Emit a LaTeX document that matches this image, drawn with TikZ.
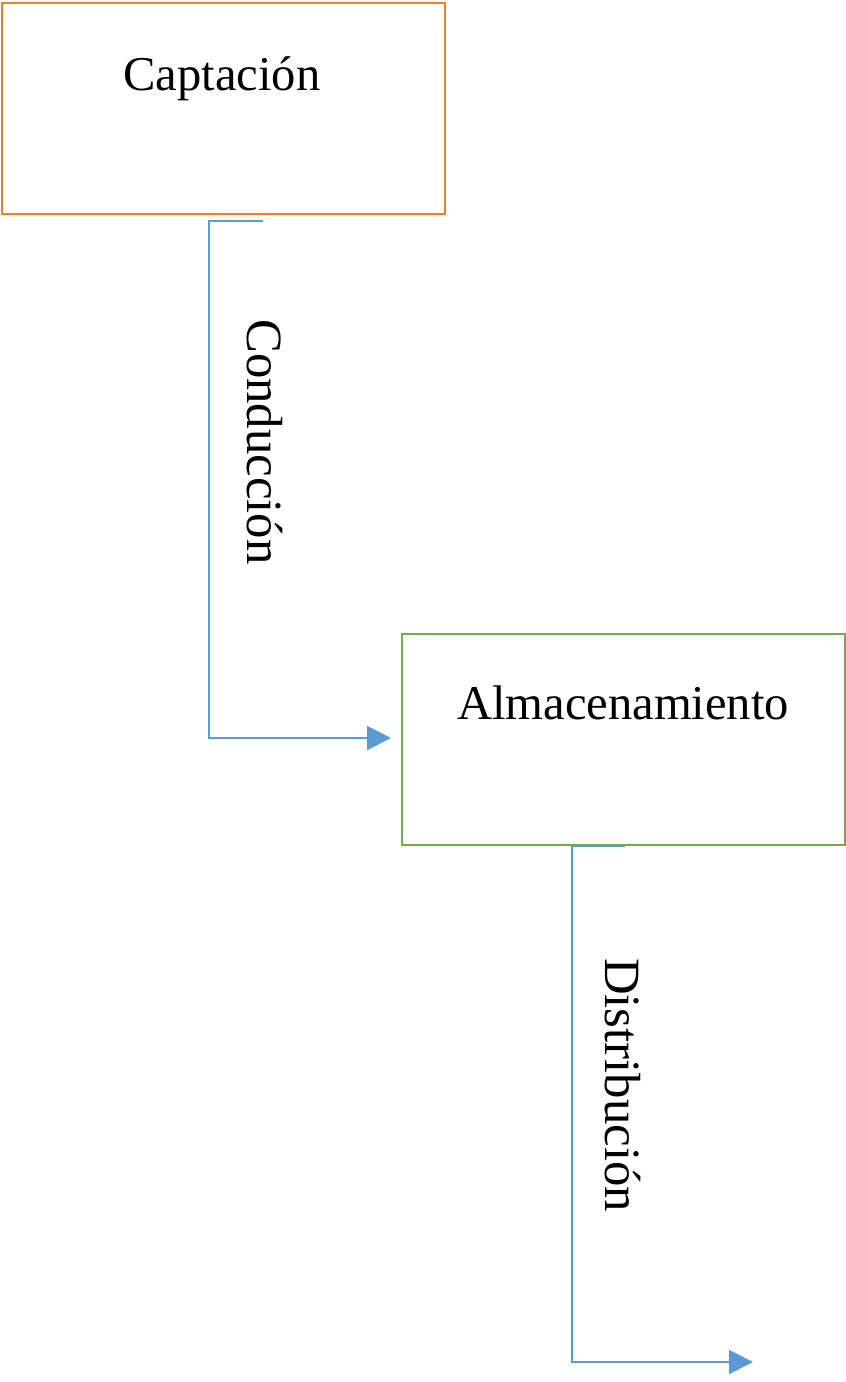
\documentclass[tikz,border=0pt]{standalone}
\usepackage{fontspec}
\setmainfont{Liberation Serif}
\usetikzlibrary{arrows.meta}
\definecolor{offorange}{HTML}{ED7D31}
\definecolor{offgreen}{HTML}{70AD47}
\definecolor{offblue}{HTML}{5B9BD5}
\begin{document}
\begin{tikzpicture}[x=1pt,y=-1pt,
  stagebox/.style={draw, line width=2pt, minimum width=443pt, minimum height=211pt, inner sep=0pt, fill=white},
  lbl/.style={font=\fontsize{48.6}{58}\selectfont, inner sep=0pt, anchor=base},
  vlbl/.style={font=\fontsize{50.8}{60}\selectfont, inner sep=0pt, anchor=base, rotate=-90},
  conn/.style={draw=offblue, line width=2pt, -{Triangle[length=24pt,width=24pt]}, line join=miter}]
\useasboundingbox (0,0) rectangle (846,1382);
\node[stagebox, draw=offorange] (cap) at (223.5,108.5) {};
\node[stagebox, draw=offgreen] (alm) at (623.5,739.5) {};
\node[lbl] (capt) at (222,90) {Captación};
\node[lbl] (almt) at (623,719) {Almacenamiento};
\coordinate (c1s) at (263,221);
\coordinate (c1a) at (209,221);
\coordinate (c1b) at (209,738);
\coordinate (c1e) at (391,738);
\coordinate (c2s) at (625,846);
\coordinate (c2a) at (572,846);
\coordinate (c2b) at (572,1362);
\coordinate (c2e) at (753,1362);
\draw[conn] (c1s) -- (c1a) -- (c1b) -- (c1e);
\draw[conn] (c2s) -- (c2a) -- (c2b) -- (c2e);
\node[vlbl] (cond) at (247,442) {Conducción};
\node[vlbl] (dist) at (605,1085) {Distribución};
\end{tikzpicture}
\end{document}
